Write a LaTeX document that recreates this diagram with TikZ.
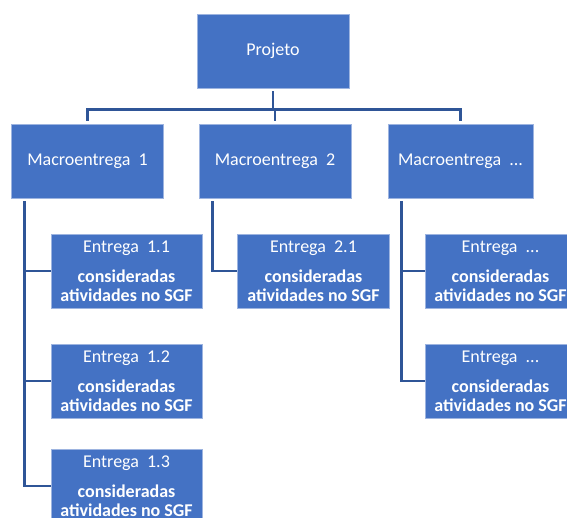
\documentclass[tikz,border=0pt]{standalone}
\usepackage{fontspec}
\setmainfont{Carlito}
\definecolor{boxblue}{HTML}{4472C4}
\definecolor{boxedge}{HTML}{9DB4E0}
\definecolor{linkblue}{HTML}{2F5597}
\begin{document}
\begin{tikzpicture}[x=1pt,y=-1pt,
  box/.style={rectangle, fill=boxblue, draw=boxedge, line width=0.6pt,
    minimum width=151pt, minimum height=74pt, inner sep=0pt, text=white,
    font=\fontsize{18}{19}\selectfont, align=center},
  conn/.style={draw=linkblue, line width=2.8pt, line join=miter}]
\useasboundingbox (0,0) rectangle (567,518);
\clip (0,0) rectangle (567,518);
\fill[white] (0,0) rectangle (567,518);
% top
\node[box, minimum width=152pt] (P) at (273,51) {Projeto};
\node[box, minimum width=152pt] (M1) at (87.5,161) {Macroentrega\ \ 1};
\node[box, minimum width=152pt] (M2) at (275,161) {Macroentrega\ \ 2};
\node[box, minimum width=145pt] (M3) at (460.5,161) {Macroentrega\ \ ...};
% deliveries
\node[box] (E11) at (126.5,271) {Entrega\ \ 1.1\\[11pt]\textbf{consideradas}\\\textbf{atividades no SGF}};
\node[box] (E12) at (126.5,381) {Entrega\ \ 1.2\\[11pt]\textbf{consideradas}\\\textbf{atividades no SGF}};
\node[box] (E13) at (126.5,486) {Entrega\ \ 1.3\\[11pt]\textbf{consideradas}\\\textbf{atividades no SGF}};
\node[box, minimum width=152pt] (E21) at (313.5,271) {Entrega\ \ 2.1\\[11pt]\textbf{consideradas}\\\textbf{atividades no SGF}};
\node[box] (E31) at (500.5,271) {Entrega\ \ ...\\[11pt]\textbf{consideradas}\\\textbf{atividades no SGF}};
\node[box] (E32) at (500.5,381) {Entrega\ \ ...\\[11pt]\textbf{consideradas}\\\textbf{atividades no SGF}};
% connectors
\draw[conn] ([yshift=-3pt]P.south) -- ++(0,18) coordinate (bus);
\draw[conn] ([yshift=3pt]M1.north) |- (bus) -| ([yshift=3pt]M3.north);
\draw[conn] (bus -| M2.north) -- ([yshift=3pt]M2.north);
\draw[conn] ([xshift=13pt,yshift=-3pt]M1.south west) |- (E13.west);
\draw[conn] ([xshift=13pt]M1.south west |- E11.west) -- (E11.west);
\draw[conn] ([xshift=13pt]M1.south west |- E12.west) -- (E12.west);
\draw[conn] ([xshift=14pt,yshift=-3pt]M2.south west) |- (E21.west);
\draw[conn] ([xshift=14pt,yshift=-3pt]M3.south west) |- (E32.west);
\draw[conn] ([xshift=14pt]M3.south west |- E31.west) -- (E31.west);
\end{tikzpicture}
\end{document}
